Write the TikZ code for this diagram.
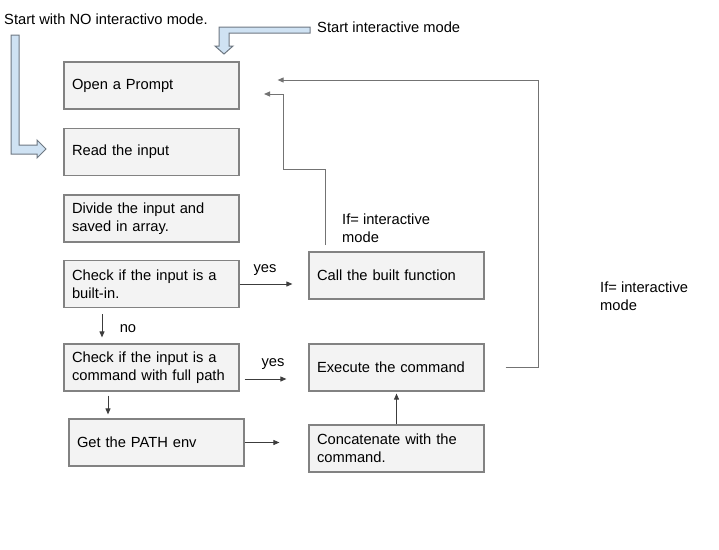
\documentclass[tikz,border=0pt]{standalone}
\usepackage{fontspec}
\setmainfont{Liberation Sans}
\usetikzlibrary{arrows.meta}
\definecolor{boxfill}{RGB}{243,243,243}
\definecolor{boxline}{RGB}{130,130,130}
\definecolor{hintblue}{RGB}{207,226,243}
\definecolor{hintline}{RGB}{110,120,130}
\definecolor{wirecol}{RGB}{60,60,60}

\begin{document}
\begin{tikzpicture}[x=1pt,y=-1pt,
    every node/.style={font=\fontsize{14.7}{18}\selectfont},
    stepbox/.style={rectangle,draw=boxline,fill=boxfill,line width=1.2pt,
      minimum width=175pt,minimum height=47pt,text width=159pt,
      inner xsep=8pt,inner ysep=0pt,align=left},
    note/.style={inner sep=0pt,align=left},
    wire/.style={draw=wirecol,line width=0.9pt,-{Triangle[length=6pt,width=5pt]}},
    hint/.style={draw=hintline,fill=hintblue,line width=1pt}]
            \useasboundingbox (0,0) rectangle (719,549);

            % boxes
            \node (open) at (151.5,85.5) [stepbox] {Open a Prompt};
            \node (read) at (151.5,152) [stepbox] {Read the input};
            \node (divide) at (151.5,218.5) [stepbox] {Divide the input and\\saved in array.};
            \node (builtin) at (151.5,284) [stepbox] {Check if the input is a\\built-in.};
            \node (fullpath) at (151.5,367.5) [stepbox] {Check if the input is a\\command with full path};
            \node (getpath) at (156.5,442.5) [stepbox] {Get the PATH env};
            \node (call) at (396.5,275.5) [stepbox] {Call the built function};
            \node (exec) at (396.5,367.5) [stepbox] {Execute the command};
            \node (concat) at (396.5,448.5) [stepbox] {Concatenate with the\\command.};

            % texts
            \node (startno) at (4,19) [note,anchor=west] {Start with NO interactivo mode.};
            \node (startint) at (317,27) [note,anchor=west] {Start interactive mode};
            \node (yes1) at (265,270) [note] {yes};
            \node (yes2) at (273,364) [note] {yes};
            \node (no) at (128,329) [note] {no};
            \node (ifcall) at (342,228.5) [note,anchor=west] {If= interactive\\mode};
            \node (ifexec) at (600,296.5) [note,anchor=west] {If= interactive\\mode};

            % hollow blue arrows
            \draw [hint] (11,35) -- (19,35) -- (19,145) -- (37,145) -- (37,140) -- (46,149)
                -- (37,158) -- (37,154) -- (11,154) -- cycle;
            \draw [hint] (310,27) -- (219,27) -- (219,46) -- (215,46) -- (224,54) -- (233,46)
                -- (229,46) -- (229,33) -- (310,33) -- cycle;

            % connectors
            \coordinate (c1) at (325,245);
            \coordinate (c2) at (283,169);
            \coordinate (c3) at (264,94);
            \coordinate (r1) at (538,80);
            \draw [wire,shorten >=16pt] (builtin.east) -- (builtin.east -| call.west);
            \draw [wire,shorten <=6pt,shorten >=6pt] ([xshift=-49.5pt]builtin.south) -- ([xshift=-49.5pt]fullpath.north);
            \draw [wire,shorten <=5pt,shorten >=22pt] ([yshift=-11.5pt]fullpath.east) -- ([yshift=-11.5pt]fullpath.east -| exec.west);
            \draw [wire,shorten <=4pt,shorten >=4pt] ([xshift=-43.5pt]fullpath.south) -- ([xshift=-43.5pt]fullpath.south |- getpath.north);
            \draw [wire,shorten >=29pt] (getpath.east) -- (getpath.east -| concat.west);
            \draw [wire,shorten >=2pt] (concat.north) -- (exec.south);
            \draw [wire,draw=gray!90!black] (c1) |- (c2) |- (c3);
            \draw [wire,draw=gray!90!black,shorten <=21pt,shorten >=38pt] (exec.east) -| (r1) -- (r1 -| open.east);
\end{tikzpicture}
\end{document}
